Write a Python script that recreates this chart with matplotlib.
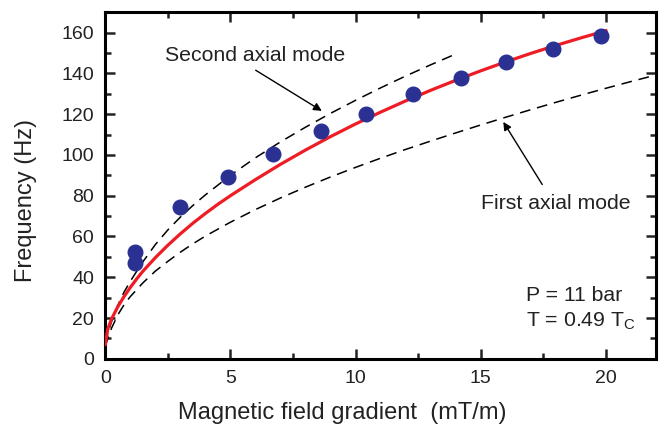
import matplotlib.pyplot as plt
from matplotlib.ticker import MultipleLocator

plt.rcParams['font.family'] = ['Liberation Sans', 'DejaVu Sans']

# measured points
grad = [1.2, 1.2, 3.0, 4.9, 6.7, 8.6, 10.4, 12.3, 14.2, 16.0, 17.9, 19.8]
freq = [52.5, 47, 74.5, 89, 100.7, 111.6, 120.3, 130.1, 137.9, 145.6, 152.2, 158.3]

# fit (red)
fit_x = [0, 0.1, 0.25, 0.5, 0.75, 1, 1.25, 1.5, 2, 2.5, 3, 3.5, 4, 4.5, 5,
         6, 7, 8, 9, 10, 11, 12, 13, 14, 15, 16, 17, 18, 19, 20]
fit_y = [7, 14.5, 19.5, 25.5, 30.5, 35, 39.1, 42.9, 49.6, 55.7, 61.3, 66.5, 71.3, 75.8, 80,
         87.9, 95.4, 102.4, 109, 115.2, 121, 126.5, 131.7, 136.6, 141.25, 145.65, 149.8,
         153.7, 157.4, 160.9]

# second axial mode (upper dashed)
second_x = [0, 0.1, 0.25, 0.5, 0.75, 1, 1.25, 1.5, 2, 2.5, 3, 3.5, 4, 5,
            6, 7, 8, 9, 10, 11, 12, 13, 14]
second_y = [7, 12.2, 18.2, 26.2, 32.7, 38, 42.8, 47.5, 56, 63.2, 69.5, 75.2, 80.4, 90,
            98.6, 106.4, 113.6, 120.4, 126.8, 132.9, 138.7, 144.2, 149.5]

# first axial mode (lower dashed)
first_x = [0, 0.1, 0.25, 0.5, 0.75, 1, 1.5, 2, 2.5, 3, 3.5, 4, 5, 6, 7, 8,
           9, 10, 11, 12, 13, 14, 15, 16, 17, 18, 19, 20, 21, 22]
first_y = [6, 10, 15, 21.5, 26.5, 30.5, 37.2, 43, 47.8, 52.3, 56.4, 60.2, 67, 73.2, 78.9, 84.2,
           89.2, 93.9, 98.4, 102.7, 106.8, 110.8, 114.7, 118.5, 122.2, 125.8, 129.3, 132.7,
           136, 139.2]

fig = plt.figure(figsize=(6.66, 4.36), dpi=100)
ax = fig.add_axes([0.158, 0.177, 0.827, 0.795])

ax.plot(first_x, first_y, color='black', lw=1.1, dashes=(7, 4.5))
ax.plot(second_x, second_y, color='black', lw=1.1, dashes=(7, 4.5))
ax.plot(fit_x, fit_y, color='#ee1c24', lw=2.3, zorder=3)
ax.plot(grad, freq, 'o', color='#2b3192', ms=10.5, zorder=4)

fs = 15.3
ax.annotate('Second axial mode', xy=(8.65, 121.6), xytext=(6.0, 149),
            ha='center', va='center', fontsize=fs, color='#222222',
            arrowprops=dict(arrowstyle='-|>', color='black', lw=1.0, relpos=(0.45, 0),
                            mutation_scale=12, shrinkA=4, shrinkB=0))
ax.annotate('First axial mode', xy=(15.9, 116.2), xytext=(18.0, 76),
            ha='center', va='center', fontsize=fs, color='#222222',
            arrowprops=dict(arrowstyle='-|>', color='black', lw=1.0, relpos=(0.45, 1),
                            mutation_scale=12, shrinkA=6, shrinkB=0))
ax.text(16.8, 31, 'P = 11 bar', fontsize=fs, color='#222222', va='center')
ax.text(16.8, 18.5, 'T = 0.49 T$_\\mathregular{C}$', fontsize=fs, color='#222222', va='center')

ax.set_xlim(0, 22)
ax.set_ylim(0, 170)
ax.xaxis.set_major_locator(MultipleLocator(5))
ax.xaxis.set_minor_locator(MultipleLocator(2.5))
ax.yaxis.set_major_locator(MultipleLocator(20))
ax.yaxis.set_minor_locator(MultipleLocator(10))
ax.tick_params(which='both', direction='in', top=True, right=True, width=1.8,
               labelsize=14, colors='#222222', pad=8)
ax.tick_params(which='major', length=7)
ax.tick_params(which='minor', length=4)
for s in ax.spines.values():
    s.set_linewidth(2.2)

ax.set_xlabel('Magnetic field gradient  (mT/m)', fontsize=17, color='#222222')
ax.set_ylabel('Frequency (Hz)', fontsize=17, color='#222222')
ax.xaxis.set_label_coords(0.43, -0.125)
ax.yaxis.set_label_coords(-0.123, 0.458)

fig.savefig('out.png', dpi=100)
